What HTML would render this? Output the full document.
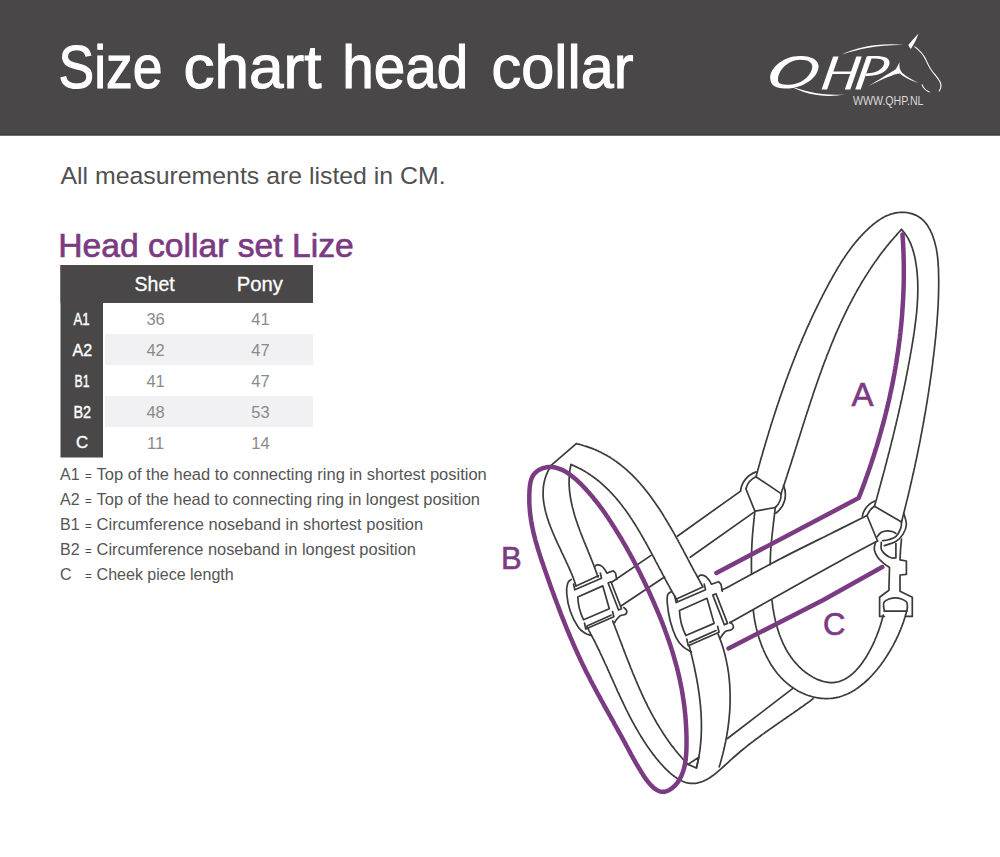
<!DOCTYPE html>
<html><head><meta charset="utf-8"><title>Size chart head collar</title>
<style>
html,body{margin:0;padding:0;background:#fff;}
body{width:1000px;height:857px;position:relative;overflow:hidden;font-family:"Liberation Sans",sans-serif;}
svg{position:absolute;left:0;top:0;display:block;}
</style></head>
<body>
<svg width="1000" height="857" viewBox="0 0 1000 857">
<rect x="0" y="0" width="1000" height="135.5" fill="#4a4749"/>
<rect x="0" y="134.2" width="1000" height="1.3" fill="#3b393a"/>
<rect x="60.5" y="265" width="252.5" height="38" fill="#4a4749"/>
<rect x="60.5" y="265" width="42.5" height="192.5" fill="#4a4749"/>
<rect x="105" y="334" width="208" height="31" fill="#f1f1f3"/>
<rect x="105" y="396" width="208" height="31" fill="#f1f1f3"/>

<g fill="#ffffff" stroke="none">
<path fill-rule="evenodd" d="M770.5,80 C768,70 782,56 800,56 C814,56 821,62 818,70 C814,82 798,89 785,88.5 C775,88 771,85 770.5,80Z M778,80.5 C777.5,71 787.5,60 800,59.8 C809,59.7 813.5,63 812,69 C809.5,78 799,84.8 789,84.8 C781.5,84.8 778.2,83.5 778,80.5Z"/>
<path d="M790,86 C805,91 820,96 845,94.5 C826,98 806,95 790,86Z"/>
<path d="M821.6,89.6 L833.1,56.5 L838.6,56.5 L827.1,89.6Z"/>
<path d="M844.8,89.6 L856.3,56.5 L861.8,56.5 L850.3,89.6Z"/>
<path d="M830,71.5 L853.5,71.5 L853,74 L829.5,74Z"/>
<path d="M855.2,89.6 L866.7,56.5 L872.2,56.5 L860.7,89.6Z"/>
<path fill-rule="evenodd" d="M867.5,56.3 C880,55.3 891.5,56 889.3,64.5 C887,73 876,76.5 865.5,76 L866,73.6 C875,73.3 882.5,70 884,64.3 C885.5,58.6 878,58.3 868,58.6Z"/>
<path d="M841.5,54.5 C858,47 880,42.5 904,45 C880,44.5 860,48.5 841.5,54.5Z"/>
<path d="M908.3,45 Q913.5,38.5 918.6,33.5 Q916,41.5 910.9,48.9 Q909.2,47.3 908.3,45Z"/>
<path d="M868,86.5 C878,80 890,73 896,69 L899.6,62 C899,66 899.5,70 902.3,73 C906,76 912,80 918.5,83 C911,80.5 904,77.5 900,73.5 C895,73.5 880,80 868,86.5Z"/>
</g>
<g fill="none" stroke="#ffffff" stroke-linecap="round">
<path stroke-width="1.1" d="M914.9,46.9 C919,50 923,54 925.5,59 C928,64.5 929.5,68 932,71 C935,75 939,79 940.5,83 C941.5,86 940.5,89 939.2,91"/>
<path stroke-width="1.1" d="M922.1,84.7 C923,87.5 925.5,90.5 929.3,91.9"/>
</g>
<text transform="translate(853.00,104.50) scale(0.8494,1)" font-family="Liberation Sans" font-weight="normal" font-style="normal" font-size="12.5" fill="#d8d8d8">WWW.QHP.NL</text>
<text transform="translate(58.50,88.30) scale(0.8832,1)" font-family="Liberation Sans" font-weight="normal" font-style="normal" font-size="60.5" fill="#ffffff" stroke="#ffffff" stroke-width="1.1">Size</text>
<text transform="translate(183.50,88.30) scale(1.0260,1)" font-family="Liberation Sans" font-weight="normal" font-style="normal" font-size="60.5" fill="#ffffff" stroke="#ffffff" stroke-width="1.1">chart</text>
<text transform="translate(342.20,88.30) scale(0.9368,1)" font-family="Liberation Sans" font-weight="normal" font-style="normal" font-size="60.5" fill="#ffffff" stroke="#ffffff" stroke-width="1.1">head</text>
<text transform="translate(491.60,88.30) scale(0.9813,1)" font-family="Liberation Sans" font-weight="normal" font-style="normal" font-size="60.5" fill="#ffffff" stroke="#ffffff" stroke-width="1.1">collar</text>
<text transform="translate(60.50,183.80) scale(1.0145,1)" font-family="Liberation Sans" font-weight="normal" font-style="normal" font-size="24.5" fill="#505050">All measurements are listed in CM.</text>
<text transform="translate(58.30,256.50) scale(1.0195,1)" font-family="Liberation Sans" font-weight="normal" font-style="normal" font-size="33" fill="#7b3b82" stroke="#7b3b82" stroke-width="0.7">Head collar set Lize</text>
<text transform="translate(134.60,291.20) scale(0.9988,1)" font-family="Liberation Sans" font-weight="normal" font-style="normal" font-size="19.5" fill="#ffffff" stroke="#ffffff" stroke-width="0.3">Shet</text>
<text transform="translate(236.80,291.20) scale(1.0382,1)" font-family="Liberation Sans" font-weight="normal" font-style="normal" font-size="19.5" fill="#ffffff" stroke="#ffffff" stroke-width="0.3">Pony</text>
<text transform="translate(73.40,324.80) scale(0.7759,1)" font-family="Liberation Sans" font-weight="normal" font-style="normal" font-size="17" fill="#ffffff" stroke="#ffffff" stroke-width="0.4">A1</text>
<text transform="translate(72.50,356.00) scale(0.9446,1)" font-family="Liberation Sans" font-weight="normal" font-style="normal" font-size="17" fill="#ffffff" stroke="#ffffff" stroke-width="0.4">A2</text>
<text transform="translate(74.60,386.80) scale(0.7181,1)" font-family="Liberation Sans" font-weight="normal" font-style="normal" font-size="17" fill="#ffffff" stroke="#ffffff" stroke-width="0.4">B1</text>
<text transform="translate(73.40,417.60) scale(0.8482,1)" font-family="Liberation Sans" font-weight="normal" font-style="normal" font-size="17" fill="#ffffff" stroke="#ffffff" stroke-width="0.4">B2</text>
<text transform="translate(75.90,448.40) scale(0.9878,1)" font-family="Liberation Sans" font-weight="normal" font-style="normal" font-size="17" fill="#ffffff" stroke="#ffffff" stroke-width="0.4">C</text>
<text x="155.6" y="325.0" text-anchor="middle" font-family="Liberation Sans" font-size="16.5" fill="#8a8a8a">36</text>
<text x="260.5" y="325.0" text-anchor="middle" font-family="Liberation Sans" font-size="16.5" fill="#8a8a8a">41</text>
<text x="155.6" y="355.9" text-anchor="middle" font-family="Liberation Sans" font-size="16.5" fill="#8a8a8a">42</text>
<text x="260.5" y="355.9" text-anchor="middle" font-family="Liberation Sans" font-size="16.5" fill="#8a8a8a">47</text>
<text x="155.6" y="386.8" text-anchor="middle" font-family="Liberation Sans" font-size="16.5" fill="#8a8a8a">41</text>
<text x="260.5" y="386.8" text-anchor="middle" font-family="Liberation Sans" font-size="16.5" fill="#8a8a8a">47</text>
<text x="155.6" y="417.7" text-anchor="middle" font-family="Liberation Sans" font-size="16.5" fill="#8a8a8a">48</text>
<text x="260.5" y="417.7" text-anchor="middle" font-family="Liberation Sans" font-size="16.5" fill="#8a8a8a">53</text>
<text x="155.6" y="448.6" text-anchor="middle" font-family="Liberation Sans" font-size="16.5" fill="#8a8a8a">11</text>
<text x="260.5" y="448.6" text-anchor="middle" font-family="Liberation Sans" font-size="16.5" fill="#8a8a8a">14</text>
<text x="60" y="479.7" font-family="Liberation Sans" font-size="16" fill="#555555">A1</text>
<text x="85" y="479.7" font-family="Liberation Sans" font-size="11.5" fill="#4a4a4a">=</text>
<text transform="translate(96.60,479.70) scale(1.0301,1)" font-family="Liberation Sans" font-weight="normal" font-style="normal" font-size="16" fill="#555555">Top of the head to connecting ring in shortest position</text>
<text x="60" y="504.7" font-family="Liberation Sans" font-size="16" fill="#555555">A2</text>
<text x="85" y="504.7" font-family="Liberation Sans" font-size="11.5" fill="#4a4a4a">=</text>
<text transform="translate(96.60,504.70) scale(1.0270,1)" font-family="Liberation Sans" font-weight="normal" font-style="normal" font-size="16" fill="#555555">Top of the head to connecting ring in longest position</text>
<text x="60" y="529.7" font-family="Liberation Sans" font-size="16" fill="#555555">B1</text>
<text x="85" y="529.7" font-family="Liberation Sans" font-size="11.5" fill="#4a4a4a">=</text>
<text transform="translate(96.60,529.70) scale(1.0319,1)" font-family="Liberation Sans" font-weight="normal" font-style="normal" font-size="16" fill="#555555">Circumference noseband in shortest position</text>
<text x="60" y="554.7" font-family="Liberation Sans" font-size="16" fill="#555555">B2</text>
<text x="85" y="554.7" font-family="Liberation Sans" font-size="11.5" fill="#4a4a4a">=</text>
<text transform="translate(96.60,554.70) scale(1.0265,1)" font-family="Liberation Sans" font-weight="normal" font-style="normal" font-size="16" fill="#555555">Circumference noseband in longest position</text>
<text x="60" y="579.7" font-family="Liberation Sans" font-size="16" fill="#555555">C</text>
<text x="85" y="579.7" font-family="Liberation Sans" font-size="11.5" fill="#4a4a4a">=</text>
<text transform="translate(96.60,579.70) scale(1.0015,1)" font-family="Liberation Sans" font-weight="normal" font-style="normal" font-size="16" fill="#555555">Cheek piece length</text>
</svg>
<svg class="ill" width="1000" height="857" viewBox="0 0 1000 857">
<g fill="none" stroke="#3a3a3a" stroke-width="1.7" stroke-linecap="round" stroke-linejoin="round">
<path d="M756.1,476.3 L756.5,474.9 L756.9,473.4 L757.3,472.0 L757.7,470.5 L758.1,469.1 L758.5,467.6 L758.9,466.2 L759.3,464.8 L759.7,463.3 L760.1,461.9 L760.5,460.4 L760.9,459.0 L761.3,457.5 L761.8,456.1 L762.2,454.7 L762.6,453.2 L763.0,451.8 L763.4,450.3 L763.9,448.9 L764.3,447.4 L764.7,446.0 L765.1,444.6 L765.6,443.1 L766.0,441.7 L766.4,440.2 L766.9,438.8 L767.3,437.3 L767.7,435.9 L768.2,434.5 L768.6,433.0 L769.0,431.6 L769.5,430.1 L769.9,428.7 L770.4,427.2 L770.8,425.8 L771.3,424.4 L771.7,422.9 L772.2,421.5 L772.6,420.1 L773.1,418.6 L773.6,417.2 L774.0,415.7 L774.5,414.3 L775.0,412.9 L775.4,411.4 L775.9,410.0 L776.4,408.6 L776.8,407.1 L777.3,405.7 L777.8,404.3 L778.3,402.8 L778.8,401.4 L779.2,400.0 L779.7,398.5 L780.2,397.1 L780.7,395.7 L781.2,394.2 L781.7,392.8 L782.2,391.4 L782.7,390.0 L783.2,388.5 L783.7,387.1 L784.2,385.7 L784.7,384.3 L785.2,382.9 L785.7,381.4 L786.2,380.0 L786.8,378.6 L787.3,377.2 L787.8,375.8 L788.3,374.3 L788.9,372.9 L789.4,371.5 L789.9,370.1 L790.5,368.7 L791.0,367.3 L791.5,365.9 L792.1,364.4 L792.6,363.0 L793.2,361.6 L793.7,360.2 L794.3,358.8 L794.8,357.4 L795.4,356.0 L795.9,354.6 L796.5,353.2 L797.0,351.8 L797.6,350.4 L798.2,349.0 L798.8,347.6 L799.3,346.2 L799.9,344.8 L800.5,343.5 L801.1,342.1 L801.7,340.7 L802.2,339.3 L802.8,337.9 L803.4,336.5 L804.0,335.1 L804.6,333.8 L805.2,332.4 L805.8,331.0 L806.4,329.6 L807.0,328.2 L807.6,326.9 L808.3,325.5 L808.9,324.1 L809.5,322.8 L810.1,321.4 L810.7,320.0 L811.4,318.7 L812.0,317.3 L812.6,315.9 L813.3,314.6 L813.9,313.2 L814.6,311.9 L815.2,310.5 L815.9,309.2 L816.5,307.8 L817.2,306.5 L817.8,305.1 L818.5,303.8 L819.2,302.4 L819.8,301.1 L820.5,299.7 L821.2,298.4 L821.9,297.1 L822.5,295.7 L823.2,294.4 L823.9,293.1 L824.6,291.7 L825.3,290.4 L826.0,289.1 L826.7,287.8 L827.4,286.4 L828.1,285.1 L828.8,283.8 L829.5,282.5 L830.2,281.2 L831.0,279.9 L831.7,278.6 L832.4,277.3 L833.1,276.0 L833.9,274.7 L834.6,273.4 L835.4,272.1 L836.1,270.8 L836.9,269.5 L837.6,268.2 L838.4,266.9 L839.2,265.7 L840.0,264.4 L840.7,263.1 L841.5,261.8 L842.3,260.6 L843.2,259.3 L844.0,258.1 L844.8,256.8 L845.7,255.6 L846.5,254.4 L847.4,253.1 L848.2,251.9 L849.1,250.7 L850.0,249.5 L850.9,248.2 L851.8,247.0 L852.7,245.8 L853.7,244.6 L854.6,243.5 L855.6,242.3 L856.6,241.1 L857.6,239.9 L858.6,238.8 L859.6,237.6 L860.6,236.5 L861.7,235.4 L862.7,234.2 L863.8,233.1 L864.9,232.0 L866.0,230.9 L867.2,229.8 L868.3,228.7 L869.5,227.6 L870.6,226.6 L871.8,225.6 L873.0,224.5 L874.2,223.6 L875.5,222.6 L876.7,221.7 L878.0,220.8 L879.3,219.9 L880.6,219.1 L881.9,218.3 L883.2,217.5 L884.6,216.8 L885.9,216.1 L887.3,215.5 L888.7,215.0 L890.1,214.4 L891.5,214.0 L892.9,213.6 L894.4,213.2 L895.8,212.9 L897.3,212.7 L898.7,212.5 L900.2,212.4 L901.7,212.3 L903.1,212.3 L904.6,212.4 L906.0,212.5 L907.5,212.7 L908.9,213.0 L910.3,213.3 L911.7,213.6 L913.0,214.1 L914.3,214.6 L915.6,215.1 L916.9,215.7 L918.1,216.4 L919.3,217.2 L920.5,218.0 L921.6,218.9 L922.7,219.8 L923.7,220.8 L924.7,221.9 L925.6,223.0 L926.5,224.1 L927.4,225.3 L928.2,226.6 L928.9,227.9 L929.7,229.2 L930.4,230.6 L931.0,231.9 L931.7,233.3 L932.3,234.8 L932.8,236.2 L933.3,237.7 L933.8,239.2 L934.3,240.6 L934.7,242.1 L935.1,243.6 L935.5,245.1 L935.8,246.6 L936.2,248.1 L936.5,249.6 L936.7,251.2 L937.0,252.7 L937.2,254.2 L937.4,255.7 L937.6,257.2 L937.7,258.7 L937.9,260.3 L938.0,261.8 L938.1,263.3 L938.2,264.9 L938.3,266.4 L938.4,267.9 L938.5,269.4 L938.5,271.0 L938.5,272.5 L938.6,274.0 L938.6,275.5 L938.6,277.1 L938.7,278.6 L938.7,280.1 L938.7,281.6 L938.7,283.1 L938.7,284.6 L938.7,286.2 L938.6,287.7 L938.6,289.2 L938.6,290.7 L938.6,292.2 L938.5,293.7 L938.5,295.2 L938.5,296.7 L938.4,298.2 L938.3,299.7 L938.3,301.2 L938.2,302.7 L938.2,304.2 L938.1,305.7 L938.0,307.2 L937.9,308.7 L937.8,310.2 L937.7,311.7 L937.6,313.2 L937.6,314.7 L937.4,316.2 L937.3,317.7 L937.2,319.2 L937.1,320.7 L937.0,322.2 L936.9,323.7 L936.8,325.2 L936.6,326.7 L936.5,328.1 L936.4,329.6 L936.2,331.1 L936.1,332.6 L935.9,334.1 L935.8,335.6 L935.7,337.1 L935.5,338.6 L935.3,340.1 L935.2,341.5 L935.0,343.0 L934.9,344.5 L934.7,346.0 L934.5,347.5 L934.4,349.0 L934.2,350.5 L934.0,352.0 L933.8,353.5 L933.7,354.9 L933.5,356.4 L933.3,357.9 L933.1,359.4 L932.9,360.9 L932.7,362.4 L932.6,363.9 L932.4,365.4 L932.2,366.9 L932.0,368.4 L931.8,369.8 L931.6,371.3 L931.4,372.8 L931.2,374.3 L931.0,375.8 L930.8,377.3 L930.5,378.8 L930.3,380.3 L930.1,381.8 L929.9,383.3 L929.7,384.8 L929.5,386.2 L929.2,387.7 L929.0,389.2 L928.8,390.7 L928.6,392.2 L928.3,393.7 L928.1,395.2 L927.9,396.7 L927.6,398.2 L927.4,399.7 L927.2,401.1 L926.9,402.6 L926.7,404.1 L926.4,405.6 L926.2,407.1 L925.9,408.6 L925.7,410.1 L925.4,411.6 L925.2,413.1 L924.9,414.5 L924.6,416.0 L924.4,417.5 L924.1,419.0 L923.9,420.5 L923.6,422.0 L923.3,423.5 L923.1,424.9 L922.8,426.4 L922.5,427.9 L922.2,429.4 L922.0,430.9 L921.7,432.4 L921.4,433.9 L921.1,435.3 L920.8,436.8 L920.5,438.3 L920.3,439.8 L920.0,441.3 L919.7,442.8 L919.4,444.2 L919.1,445.7 L918.8,447.2 L918.5,448.7 L918.2,450.2 L917.9,451.6 L917.6,453.1 L917.3,454.6 L917.0,456.1 L916.7,457.5 L916.4,459.0 L916.0,460.5 L915.7,462.0 L915.4,463.4 L915.1,464.9 L914.8,466.4 L914.5,467.9 L914.1,469.3 L913.8,470.8 L913.5,472.3 L913.2,473.8 L912.8,475.2 L912.5,476.7 L912.2,478.2 L911.8,479.6 L911.5,481.1 L911.2,482.6 L910.8,484.0 L910.5,485.5 L910.1,487.0 L909.8,488.4 L909.5,489.9 L909.1,491.4 L908.8,492.8 L908.4,494.3 L908.1,495.7 L907.7,497.2 L907.4,498.7 L907.0,500.1 L906.6,501.6 L906.3,503.0 L905.9,504.5 L905.6,505.9 L905.2,507.4 L904.8,508.9 L904.5,510.3 L904.1,511.8 L903.7,513.2 L903.4,514.7 L903.0,516.1 L902.6,517.6 L902.3,519.0 L901.9,520.5 L901.5,521.9"/>
<path d="M781.1,493.6 L781.6,492.2 L782.0,490.8 L782.5,489.4 L783.0,488.0 L783.5,486.6 L783.9,485.2 L784.4,483.8 L784.9,482.4 L785.3,480.9 L785.8,479.5 L786.2,478.1 L786.7,476.7 L787.2,475.3 L787.6,473.8 L788.1,472.4 L788.5,471.0 L789.0,469.6 L789.5,468.1 L789.9,466.7 L790.4,465.3 L790.8,463.9 L791.3,462.4 L791.7,461.0 L792.2,459.6 L792.6,458.1 L793.1,456.7 L793.6,455.3 L794.0,453.8 L794.5,452.4 L794.9,450.9 L795.4,449.5 L795.8,448.1 L796.3,446.6 L796.7,445.2 L797.2,443.7 L797.6,442.3 L798.1,440.8 L798.6,439.4 L799.0,437.9 L799.5,436.5 L799.9,435.0 L800.4,433.6 L800.8,432.2 L801.3,430.7 L801.7,429.3 L802.2,427.8 L802.7,426.4 L803.1,424.9 L803.6,423.5 L804.1,422.0 L804.5,420.6 L805.0,419.1 L805.4,417.7 L805.9,416.2 L806.4,414.8 L806.8,413.3 L807.3,411.9 L807.8,410.4 L808.3,409.0 L808.7,407.5 L809.2,406.1 L809.7,404.6 L810.2,403.2 L810.6,401.7 L811.1,400.3 L811.6,398.8 L812.1,397.4 L812.6,395.9 L813.0,394.5 L813.5,393.0 L814.0,391.6 L814.5,390.1 L815.0,388.7 L815.5,387.2 L816.0,385.8 L816.5,384.4 L817.0,382.9 L817.5,381.5 L818.0,380.0 L818.5,378.6 L819.0,377.2 L819.5,375.7 L820.0,374.3 L820.6,372.9 L821.1,371.4 L821.6,370.0 L822.1,368.6 L822.6,367.1 L823.2,365.7 L823.7,364.3 L824.2,362.8 L824.8,361.4 L825.3,360.0 L825.9,358.6 L826.4,357.1 L826.9,355.7 L827.5,354.3 L828.1,352.9 L828.6,351.5 L829.2,350.1 L829.7,348.7 L830.3,347.2 L830.9,345.8 L831.4,344.4 L832.0,343.0 L832.6,341.6 L833.2,340.2 L833.8,338.8 L834.3,337.4 L834.9,336.0 L835.5,334.6 L836.1,333.2 L836.7,331.9 L837.3,330.5 L837.9,329.1 L838.6,327.7 L839.2,326.3 L839.8,324.9 L840.4,323.6 L841.0,322.2 L841.7,320.8 L842.3,319.4 L843.0,318.1 L843.6,316.7 L844.3,315.4 L844.9,314.0 L845.6,312.6 L846.2,311.3 L846.9,309.9 L847.6,308.6 L848.2,307.2 L848.9,305.9 L849.6,304.6 L850.3,303.2 L851.0,301.9 L851.7,300.6 L852.4,299.2 L853.1,297.9 L853.8,296.6 L854.5,295.3 L855.2,293.9 L856.0,292.6 L856.7,291.3 L857.4,290.0 L858.2,288.7 L858.9,287.4 L859.7,286.1 L860.4,284.8 L861.2,283.5 L861.9,282.2 L862.7,280.9 L863.5,279.7 L864.3,278.4 L865.1,277.1 L865.9,275.8 L866.7,274.6 L867.5,273.3 L868.3,272.1 L869.1,270.8 L869.9,269.6 L870.7,268.3 L871.6,267.1 L872.4,265.8 L873.2,264.6 L874.1,263.4 L874.9,262.1 L875.8,260.9 L876.7,259.7 L877.6,258.5 L878.4,257.3 L879.3,256.0 L880.2,254.8 L881.1,253.6 L882.0,252.4 L882.9,251.3 L883.8,250.1 L884.8,248.9 L885.7,247.7 L886.6,246.5 L887.6,245.4 L888.5,244.2 L889.5,243.0 L890.4,241.9 L891.4,240.7 L892.4,239.6 L893.4,238.5 L894.4,237.3 L895.4,236.2 L896.4,235.1 L897.4,233.9 L898.4,232.8 L899.4,231.7 L900.5,230.6 L901.5,229.5"/>
<path d="M901.5,229.5 L902.5,230.6 L903.5,231.7 L904.4,232.8 L905.2,234.0 L906.1,235.2 L906.9,236.4 L907.6,237.6 L908.3,238.8 L909.0,240.1 L909.6,241.3 L910.2,242.6 L910.8,243.9 L911.3,245.2 L911.8,246.6 L912.3,247.9 L912.7,249.3 L913.1,250.7 L913.5,252.0 L913.9,253.4 L914.2,254.8 L914.6,256.2 L914.9,257.6 L915.2,259.1 L915.4,260.5 L915.7,261.9 L915.9,263.4 L916.1,264.8 L916.4,266.3 L916.6,267.7 L916.7,269.2 L916.9,270.6 L917.0,272.1 L917.2,273.6 L917.3,275.0 L917.4,276.5 L917.5,278.0 L917.6,279.5 L917.7,281.0 L917.7,282.5 L917.8,284.0 L917.8,285.5 L917.8,287.0 L917.8,288.5 L917.8,290.0 L917.8,291.5 L917.8,293.0 L917.7,294.5 L917.7,296.1 L917.6,297.6 L917.6,299.1 L917.5,300.6 L917.4,302.2 L917.3,303.7 L917.2,305.2 L917.1,306.8 L917.0,308.3 L916.8,309.8 L916.7,311.4 L916.6,312.9 L916.4,314.4 L916.2,316.0 L916.1,317.5 L915.9,319.0 L915.7,320.6 L915.5,322.1 L915.3,323.7 L915.1,325.2 L914.9,326.7 L914.7,328.3 L914.5,329.8 L914.3,331.3 L914.1,332.9 L913.8,334.4 L913.6,336.0 L913.4,337.5 L913.1,339.0 L912.9,340.5 L912.6,342.1 L912.4,343.6 L912.1,345.1 L911.9,346.6 L911.6,348.2 L911.3,349.7 L911.1,351.2 L910.8,352.7 L910.5,354.2 L910.3,355.7 L910.0,357.2 L909.7,358.7 L909.5,360.2 L909.2,361.7 L908.9,363.2 L908.6,364.7 L908.3,366.2 L908.1,367.7 L907.8,369.2 L907.5,370.7 L907.2,372.2 L906.9,373.6 L906.6,375.1 L906.3,376.6 L906.0,378.1 L905.8,379.6 L905.5,381.0 L905.2,382.5 L904.9,384.0 L904.6,385.4 L904.3,386.9 L904.0,388.4 L903.7,389.8 L903.3,391.3 L903.0,392.8 L902.7,394.2 L902.4,395.7 L902.1,397.1 L901.8,398.6 L901.5,400.0 L901.1,401.5 L900.8,403.0 L900.5,404.4 L900.2,405.9 L899.9,407.3 L899.5,408.8 L899.2,410.2 L898.9,411.7 L898.6,413.1 L898.2,414.6 L897.9,416.0 L897.6,417.4 L897.2,418.9 L896.9,420.3 L896.5,421.8 L896.2,423.2 L895.9,424.7 L895.5,426.1 L895.2,427.6 L894.8,429.0 L894.5,430.4 L894.1,431.9 L893.8,433.3 L893.4,434.8 L893.1,436.2 L892.7,437.7 L892.4,439.1 L892.0,440.5 L891.6,442.0 L891.3,443.4 L890.9,444.9 L890.6,446.3 L890.2,447.8 L889.8,449.2 L889.5,450.6 L889.1,452.1 L888.7,453.5 L888.3,455.0 L888.0,456.4 L887.6,457.9 L887.2,459.3 L886.8,460.8 L886.5,462.2 L886.1,463.7 L885.7,465.1 L885.3,466.6 L884.9,468.0 L884.6,469.5 L884.2,470.9 L883.8,472.4 L883.4,473.9 L883.0,475.3 L882.6,476.8 L882.2,478.2 L881.8,479.7 L881.4,481.2 L881.0,482.6 L880.6,484.1 L880.2,485.6 L879.8,487.0 L879.4,488.5 L879.0,490.0 L878.6,491.5 L878.2,492.9 L877.8,494.4 L877.4,495.9 L877.0,497.4 L876.6,498.9 L876.2,500.3 L875.7,501.8 L875.3,503.3 L874.9,504.8 L874.5,506.3"/>
<path d="M756.1,471.9 A23,23 0 0 0 740.6,490.3"/>
<path d="M756,476.8 A18,18 0 0 0 745.9,488.7"/>
<path d="M783.5,485.4 A23,23 0 0 1 775.8,513.2"/>
<path d="M781.1,493.6 A18,18 0 0 1 775.3,507.5"/>
<path d="M756.0,476.8 L781.1,493.6"/>
<path d="M745.9,488.7 L754.9,511.2 L775.3,507.5"/>
<path d="M754.9,511.2C754.5,515.2 753.1,527.5 752.5,535.0C751.9,542.5 751.7,549.5 751.5,556.0C751.3,562.5 751.5,570.9 751.5,573.9"/>
<path d="M775.3,507.5C774.8,512.1 772.9,527.6 772.1,535.0C771.3,542.4 770.9,547.1 770.6,552.0C770.3,556.9 770.3,562.5 770.2,564.6"/>
<path d="M874.9,501 A21.5,21.5 0 0 0 862.3,516.1"/>
<path d="M874.5,506.3 A17,17 0 0 0 867.6,514.5"/>
<path d="M903.9,513.7C904.3,515.5 906.5,520.9 906.4,524.3C906.3,527.7 904.9,531.2 903.1,534.1C901.3,537.0 898.9,539.6 895.8,541.5C892.7,543.4 886.2,544.9 884.3,545.6"/>
<path d="M901.5,521.9C901.4,523.0 901.7,525.9 900.7,528.4C899.8,530.9 897.8,534.7 895.8,536.6C893.8,538.5 890.6,539.1 888.4,539.8C886.2,540.5 883.7,540.6 882.7,540.7"/>
<path d="M874.5,506.3 L901.5,521.9"/>
<path d="M867.0,515.5 L877.5,541.0"/>
<path d="M721.7,589.8C723.1,589.2 720.3,591.1 730.0,586.0C739.7,580.9 763.3,567.7 780.0,559.0C796.7,550.3 815.5,541.2 830.0,534.0C844.5,526.8 860.8,518.6 867.0,515.5"/>
<path d="M731.0,622.5C731.6,622.1 726.5,624.7 734.7,620.0C742.9,615.3 762.1,604.5 780.0,594.5C797.9,584.5 825.8,568.9 842.0,560.0C858.2,551.1 871.6,544.2 877.5,541.0"/>
<path d="M877.0,537.0C877.7,536.2 879.4,533.5 881.0,532.5C882.6,531.5 885.0,531.1 886.8,530.9C888.6,530.7 890.5,531.1 892.0,531.5C893.5,531.9 895.2,533.0 895.8,533.3"/>
<path d="M875.5,542.3C875.3,543.5 873.9,546.8 874.3,549.3C874.7,551.8 876.2,555.2 877.8,557.5C879.4,559.8 881.8,561.6 883.7,563.3C885.7,564.9 888.5,566.7 889.5,567.4 L889.5,568 L888.9,590.2 L879.6,597.2 L879.6,616.4 L884.3,616.4"/>
<path d="M906.4,616.4 L912.3,616.4 L912.3,597.2 L900.0,591.3 L900.0,575.0 L906.4,574.4 L906.4,561.0 L900.0,559.8 L900.5,550.0 L901.5,539.0"/>
<path d="M881.3,542.3C881.3,543.5 880.7,547.3 881.3,549.3C881.9,551.2 883.2,552.6 884.8,554.0C886.4,555.4 889.1,557.2 891.0,557.8C892.9,558.4 895.1,557.8 895.9,557.8 L895.9,543.5"/>
<path d="M884.3,611.2C884.3,609.6 882.5,604.0 884.3,601.8C886.1,599.6 891.6,597.8 895.3,597.8C899.0,597.8 904.4,599.6 906.4,601.8C908.4,604.0 906.9,609.6 907.0,611.2 L884.3,611.2"/>
<path d="M753.3,610.3 L753.4,611.7 L753.6,613.0 L753.8,614.4 L754.0,615.8 L754.2,617.3 L754.4,618.7 L754.7,620.1 L754.9,621.6 L755.2,623.0 L755.5,624.5 L755.8,626.0 L756.2,627.5 L756.5,628.9 L756.9,630.4 L757.3,631.9 L757.7,633.4 L758.1,634.9 L758.6,636.4 L759.0,637.9 L759.5,639.4 L760.0,640.9 L760.6,642.4 L761.1,643.9 L761.6,645.4 L762.2,646.9 L762.8,648.3 L763.4,649.8 L764.1,651.3 L764.7,652.7 L765.4,654.2 L766.1,655.6 L766.8,657.0 L767.6,658.4 L768.3,659.8 L769.1,661.2 L769.9,662.6 L770.7,664.0 L771.5,665.3 L772.4,666.6 L773.3,667.9 L774.2,669.2 L775.1,670.5 L776.0,671.7 L777.0,673.0 L778.0,674.2 L779.0,675.3 L780.0,676.5 L781.0,677.6 L782.1,678.7 L783.2,679.8 L784.3,680.9 L785.4,681.9 L786.6,682.9 L787.7,683.9 L788.9,684.8 L790.1,685.7 L791.3,686.6 L792.6,687.5 L793.8,688.3 L795.1,689.1 L796.3,689.9 L797.6,690.7 L798.9,691.4 L800.2,692.0 L801.5,692.7 L802.9,693.3 L804.2,693.9 L805.6,694.5 L806.9,695.0 L808.3,695.5 L809.7,695.9 L811.0,696.3 L812.4,696.7 L813.8,697.1 L815.2,697.4 L816.6,697.7 L818.0,697.9 L819.4,698.1 L820.8,698.3 L822.2,698.4 L823.6,698.5 L825.0,698.6 L826.4,698.6 L827.8,698.6 L829.2,698.5 L830.5,698.5 L831.9,698.3 L833.3,698.2 L834.7,697.9 L836.0,697.7 L837.4,697.4 L838.8,697.1 L840.1,696.7 L841.4,696.3 L842.8,695.8 L844.1,695.3 L845.4,694.8 L846.7,694.3 L848.0,693.7 L849.3,693.0 L850.6,692.4 L851.8,691.7 L853.1,690.9 L854.4,690.2 L855.6,689.4 L856.8,688.6 L858.0,687.7 L859.3,686.8 L860.5,685.9 L861.6,685.0 L862.8,684.0 L864.0,683.1 L865.2,682.0 L866.3,681.0 L867.4,680.0 L868.6,678.9 L869.7,677.8 L870.8,676.6 L871.9,675.5 L872.9,674.3 L874.0,673.2 L875.0,672.0 L876.1,670.7 L877.1,669.5 L878.1,668.3 L879.1,667.0 L880.1,665.7 L881.1,664.4 L882.0,663.1 L883.0,661.8 L883.9,660.5 L884.8,659.1 L885.7,657.8 L886.6,656.4 L887.5,655.0 L888.3,653.6 L889.2,652.3 L890.0,650.9 L890.8,649.5 L891.6,648.1 L892.4,646.7 L893.2,645.3 L893.9,643.9 L894.7,642.4 L895.4,641.0 L896.1,639.6 L896.7,638.2 L897.4,636.8 L898.1,635.4 L898.7,634.0 L899.3,632.6 L899.9,631.2 L900.5,629.8 L901.0,628.4 L901.6,627.0 L902.1,625.6 L902.6,624.2 L903.1,622.9 L903.6,621.5 L904.0,620.2 L904.4,618.9 L904.9,617.5 L905.2,616.2 L905.6,614.9 L906.0,613.7 L906.3,612.4"/>
<path d="M772.0,600.0 L772.1,601.4 L772.3,602.8 L772.5,604.2 L772.6,605.6 L772.8,607.0 L773.0,608.4 L773.3,609.9 L773.5,611.3 L773.8,612.8 L774.0,614.2 L774.3,615.7 L774.6,617.2 L774.9,618.6 L775.3,620.1 L775.6,621.6 L776.0,623.1 L776.4,624.6 L776.8,626.1 L777.2,627.6 L777.7,629.1 L778.1,630.6 L778.6,632.1 L779.1,633.5 L779.6,635.0 L780.2,636.5 L780.8,638.0 L781.4,639.4 L782.0,640.9 L782.6,642.3 L783.3,643.8 L783.9,645.2 L784.7,646.6 L785.4,648.0 L786.1,649.4 L786.9,650.8 L787.7,652.1 L788.6,653.5 L789.4,654.8 L790.3,656.1 L791.2,657.4 L792.2,658.7 L793.1,660.0 L794.1,661.2 L795.1,662.4 L796.2,663.6 L797.3,664.8 L798.4,666.0 L799.5,667.1 L800.7,668.2 L801.8,669.3 L803.0,670.3 L804.3,671.3 L805.5,672.3 L806.8,673.2 L808.1,674.1 L809.4,675.0 L810.7,675.8 L812.0,676.6 L813.3,677.4 L814.6,678.1 L816.0,678.8 L817.3,679.4 L818.7,679.9 L820.1,680.4 L821.4,680.9 L822.8,681.3 L824.2,681.7 L825.5,682.0 L826.9,682.2 L828.2,682.4 L829.6,682.6 L830.9,682.6 L832.2,682.6 L833.5,682.6 L834.8,682.4 L836.1,682.2 L837.4,682.0 L838.7,681.7 L839.9,681.3 L841.1,680.8 L842.4,680.3 L843.6,679.8 L844.7,679.2 L845.9,678.5 L847.1,677.8 L848.2,677.1 L849.4,676.3 L850.5,675.4 L851.6,674.5 L852.7,673.6 L853.8,672.6 L854.8,671.6 L855.9,670.5 L856.9,669.4 L857.9,668.3 L858.9,667.1 L859.9,665.9 L860.8,664.7 L861.8,663.4 L862.7,662.2 L863.6,660.8 L864.5,659.5 L865.4,658.2 L866.3,656.8 L867.1,655.4 L867.9,654.0 L868.7,652.6 L869.5,651.1 L870.3,649.7 L871.1,648.2 L871.8,646.7 L872.5,645.3 L873.2,643.8 L873.9,642.3 L874.6,640.8 L875.2,639.3 L875.8,637.8 L876.5,636.3 L877.0,634.8 L877.6,633.3 L878.2,631.9 L878.7,630.4 L879.2,628.9 L879.7,627.5 L880.2,626.0 L880.6,624.6 L881.0,623.2 L881.5,621.8 L881.8,620.4 L882.2,619.1 L882.6,617.8 L882.9,616.5 L883.2,615.2"/>
<path d="M727.5,738.5 L792.5,688.6"/>
<path d="M551.7,464.8 L576.3,443.7"/>
<path d="M576.3,443.7 L577.8,444.0 L579.4,444.4 L580.9,444.8 L582.4,445.2 L583.9,445.7 L585.4,446.1 L586.9,446.6 L588.3,447.1 L589.7,447.6 L591.2,448.1 L592.6,448.6 L594.0,449.2 L595.4,449.8 L596.8,450.4 L598.1,451.0 L599.5,451.7 L600.8,452.3 L602.1,453.0 L603.5,453.7 L604.8,454.4 L606.1,455.1 L607.3,455.8 L608.6,456.6 L609.9,457.3 L611.1,458.1 L612.3,458.9 L613.6,459.7 L614.8,460.6 L616.0,461.4 L617.2,462.3 L618.4,463.2 L619.5,464.0 L620.7,464.9 L621.8,465.9 L623.0,466.8 L624.1,467.7 L625.2,468.7 L626.4,469.7 L627.5,470.6 L628.5,471.6 L629.6,472.6 L630.7,473.7 L631.8,474.7 L632.8,475.7 L633.9,476.8 L634.9,477.8 L635.9,478.9 L637.0,480.0 L638.0,481.1 L639.0,482.2 L640.0,483.3 L640.9,484.5 L641.9,485.6 L642.9,486.7 L643.9,487.9 L644.8,489.1 L645.8,490.2 L646.7,491.4 L647.6,492.6 L648.6,493.8 L649.5,495.0 L650.4,496.2 L651.3,497.4 L652.2,498.7 L653.1,499.9 L654.0,501.2 L654.9,502.4 L655.7,503.7 L656.6,504.9 L657.5,506.2 L658.3,507.5 L659.2,508.8 L660.0,510.0 L660.8,511.3 L661.7,512.6 L662.5,513.9 L663.3,515.2 L664.1,516.6 L664.9,517.9 L665.7,519.2 L666.5,520.5 L667.3,521.9 L668.1,523.2 L668.9,524.5 L669.7,525.9 L670.5,527.2 L671.3,528.5 L672.0,529.9 L672.8,531.2 L673.6,532.6 L674.3,533.9 L675.1,535.3 L675.8,536.6 L676.6,538.0 L677.3,539.3 L678.1,540.7 L678.8,542.1 L679.5,543.4 L680.3,544.8 L681.0,546.1 L681.7,547.5 L682.5,548.9 L683.2,550.2 L683.9,551.6 L684.6,552.9 L685.3,554.3 L686.1,555.6 L686.8,557.0 L687.5,558.3 L688.2,559.7 L688.9,561.0 L689.6,562.3 L690.3,563.7 L691.0,565.0 L691.7,566.3 L692.4,567.7 L693.1,569.0 L693.8,570.3 L694.5,571.6 L695.3,572.9 L696.0,574.2 L696.7,575.5 L697.4,576.8 L698.1,578.1 L698.8,579.4 L699.5,580.7 L700.2,582.0 L700.9,583.2 L701.6,584.5 L702.3,585.7 L703.0,587.0"/>
<path d="M571.0,464.5 L572.4,465.1 L573.9,465.7 L575.3,466.4 L576.7,467.0 L578.0,467.7 L579.4,468.4 L580.8,469.1 L582.1,469.8 L583.4,470.6 L584.7,471.3 L586.0,472.1 L587.3,472.9 L588.5,473.7 L589.8,474.5 L591.0,475.4 L592.3,476.2 L593.5,477.1 L594.7,478.0 L595.9,478.9 L597.0,479.8 L598.2,480.7 L599.4,481.7 L600.5,482.6 L601.6,483.6 L602.7,484.6 L603.8,485.6 L604.9,486.6 L606.0,487.6 L607.1,488.6 L608.1,489.7 L609.2,490.7 L610.2,491.8 L611.3,492.9 L612.3,494.0 L613.3,495.1 L614.3,496.2 L615.3,497.3 L616.3,498.5 L617.2,499.6 L618.2,500.8 L619.2,501.9 L620.1,503.1 L621.0,504.3 L622.0,505.5 L622.9,506.7 L623.8,507.9 L624.7,509.1 L625.6,510.3 L626.5,511.6 L627.4,512.8 L628.2,514.1 L629.1,515.3 L630.0,516.6 L630.8,517.9 L631.7,519.1 L632.5,520.4 L633.3,521.7 L634.2,523.0 L635.0,524.3 L635.8,525.6 L636.6,526.9 L637.4,528.3 L638.2,529.6 L639.0,530.9 L639.8,532.2 L640.6,533.6 L641.4,534.9 L642.1,536.3 L642.9,537.6 L643.7,539.0 L644.4,540.3 L645.2,541.7 L646.0,543.0 L646.7,544.4 L647.5,545.7 L648.2,547.1 L649.0,548.5 L649.7,549.8 L650.4,551.2 L651.2,552.6 L651.9,553.9 L652.6,555.3 L653.4,556.7 L654.1,558.0 L654.8,559.4 L655.5,560.8 L656.2,562.1 L657.0,563.5 L657.7,564.9 L658.4,566.2 L659.1,567.6 L659.8,569.0 L660.6,570.3 L661.3,571.7 L662.0,573.0 L662.7,574.4 L663.4,575.7 L664.1,577.1 L664.9,578.4 L665.6,579.8 L666.3,581.1 L667.0,582.4 L667.7,583.8 L668.5,585.1 L669.2,586.4 L669.9,587.7 L670.6,589.0 L671.4,590.3 L672.1,591.6 L672.8,592.9 L673.6,594.2 L674.3,595.5 L675.1,596.7 L675.8,598.0 L676.6,599.2 L677.3,600.5"/>
<path d="M551.7,464.8 L550.8,466.1 L550.0,467.5 L549.2,468.8 L548.5,470.2 L547.8,471.5 L547.2,472.9 L546.6,474.3 L546.1,475.6 L545.6,477.0 L545.1,478.4 L544.8,479.8 L544.4,481.2 L544.1,482.6 L543.8,484.0 L543.6,485.4 L543.4,486.8 L543.3,488.3 L543.2,489.7 L543.1,491.1 L543.1,492.6 L543.1,494.0 L543.1,495.5 L543.2,496.9 L543.3,498.4 L543.4,499.8 L543.6,501.3 L543.8,502.7 L544.0,504.2 L544.3,505.7 L544.6,507.1 L544.9,508.6 L545.2,510.1 L545.6,511.6 L545.9,513.0 L546.4,514.5 L546.8,516.0 L547.2,517.5 L547.7,518.9 L548.2,520.4 L548.7,521.9 L549.2,523.4 L549.8,524.9 L550.3,526.3 L550.9,527.8 L551.5,529.3 L552.1,530.8 L552.7,532.3 L553.3,533.7 L554.0,535.2 L554.6,536.7 L555.2,538.2 L555.9,539.6 L556.6,541.1 L557.2,542.6 L557.9,544.0 L558.6,545.5 L559.3,547.0 L560.0,548.4 L560.7,549.9 L561.3,551.3 L562.0,552.8 L562.7,554.2 L563.4,555.6 L564.1,557.1 L564.8,558.5 L565.4,559.9 L566.1,561.4 L566.7,562.8 L567.4,564.2 L568.0,565.6 L568.7,567.0 L569.3,568.4 L569.9,569.8 L570.5,571.2 L571.1,572.6 L571.7,573.9 L572.2,575.3 L572.7,576.7 L573.3,578.0 L573.8,579.4 L574.3,580.7 L574.7,582.0 L575.2,583.4 L575.6,584.7 L576.0,586.0"/>
<path d="M571.0,464.5 L570.7,466.0 L570.4,467.5 L570.1,469.0 L569.9,470.5 L569.7,472.0 L569.5,473.6 L569.4,475.1 L569.3,476.6 L569.2,478.1 L569.1,479.6 L569.1,481.1 L569.1,482.6 L569.1,484.1 L569.2,485.6 L569.3,487.1 L569.4,488.6 L569.5,490.0 L569.6,491.5 L569.8,493.0 L570.0,494.5 L570.2,496.0 L570.4,497.5 L570.7,499.0 L571.0,500.5 L571.3,501.9 L571.6,503.4 L571.9,504.9 L572.2,506.4 L572.6,507.9 L573.0,509.3 L573.4,510.8 L573.8,512.3 L574.2,513.8 L574.6,515.2 L575.1,516.7 L575.5,518.2 L576.0,519.6 L576.5,521.1 L577.0,522.6 L577.5,524.0 L578.0,525.5 L578.5,526.9 L579.1,528.4 L579.6,529.9 L580.1,531.3 L580.7,532.8 L581.3,534.2 L581.8,535.7 L582.4,537.1 L583.0,538.6 L583.6,540.0 L584.1,541.5 L584.7,542.9 L585.3,544.3 L585.9,545.8 L586.5,547.2 L587.1,548.6 L587.7,550.1 L588.2,551.5 L588.8,552.9 L589.4,554.4 L590.0,555.8 L590.6,557.2 L591.1,558.7 L591.7,560.1 L592.3,561.5 L592.8,562.9 L593.4,564.3 L593.9,565.7 L594.5,567.2 L595.0,568.6 L595.5,570.0 L596.0,571.4 L596.6,572.8 L597.0,574.2 L597.5,575.6 L598.0,577.0"/>
<path d="M612.0,582.0 L651.1,555.4"/>
<path d="M621.0,606.0 L664.5,577.0"/>
<path d="M740.6,491.1 L677.3,536.2"/>
<path d="M753.7,512.4 L690.2,557.2"/>
<path d="M587.0,627.0 L587.8,628.4 L588.5,629.7 L589.2,631.1 L590.0,632.4 L590.7,633.8 L591.4,635.1 L592.1,636.5 L592.8,637.8 L593.5,639.2 L594.2,640.5 L594.9,641.9 L595.6,643.3 L596.3,644.6 L596.9,646.0 L597.6,647.3 L598.2,648.7 L598.9,650.0 L599.6,651.4 L600.2,652.8 L600.8,654.1 L601.5,655.5 L602.1,656.8 L602.7,658.2 L603.4,659.6 L604.0,660.9 L604.6,662.3 L605.2,663.6 L605.9,665.0 L606.5,666.3 L607.1,667.7 L607.7,669.1 L608.3,670.4 L608.9,671.8 L609.5,673.1 L610.1,674.5 L610.7,675.9 L611.3,677.2 L611.9,678.6 L612.6,679.9 L613.2,681.3 L613.8,682.6 L614.4,684.0 L615.0,685.3 L615.6,686.7 L616.2,688.0 L616.8,689.4 L617.4,690.8 L618.0,692.1 L618.7,693.5 L619.3,694.8 L619.9,696.2 L620.5,697.5 L621.2,698.8 L621.8,700.2 L622.4,701.5 L623.1,702.9 L623.7,704.2 L624.4,705.6 L625.0,706.9 L625.7,708.3 L626.3,709.6 L627.0,710.9 L627.7,712.3 L628.4,713.6 L629.0,715.0 L629.7,716.3 L630.4,717.6 L631.1,719.0 L631.8,720.3 L632.5,721.6 L633.3,723.0 L634.0,724.3 L634.7,725.6 L635.5,727.0 L636.2,728.3 L637.0,729.6 L637.8,730.9 L638.5,732.2 L639.3,733.6 L640.1,734.9 L640.9,736.2 L641.7,737.5 L642.5,738.8 L643.4,740.2 L644.2,741.5 L645.1,742.8 L645.9,744.1 L646.8,745.4 L647.7,746.7 L648.6,748.0 L649.5,749.3 L650.4,750.6 L651.3,751.8 L652.3,753.1 L653.2,754.4 L654.2,755.6 L655.2,756.9 L656.1,758.1 L657.1,759.3 L658.2,760.6 L659.2,761.8 L660.2,763.0 L661.3,764.1 L662.4,765.3 L663.4,766.5 L664.5,767.6 L665.7,768.8 L666.8,769.9 L667.9,771.0 L669.1,772.0 L670.2,773.1 L671.4,774.1 L672.6,775.1 L673.8,776.0 L675.0,776.9 L676.2,777.7 L677.4,778.5 L678.7,779.3 L679.9,780.0 L681.2,780.6 L682.4,781.2 L683.7,781.7 L685.0,782.2 L686.3,782.6 L687.6,782.9 L688.8,783.1 L690.1,783.3 L691.4,783.4 L692.7,783.4 L694.0,783.4 L695.3,783.3 L696.6,783.1 L697.9,782.8 L699.2,782.5 L700.5,782.2 L701.8,781.7 L703.1,781.3 L704.3,780.7 L705.6,780.1 L706.8,779.4 L708.1,778.7 L709.3,778.0 L710.5,777.2 L711.8,776.3 L713.0,775.5 L714.2,774.6 L715.4,773.6 L716.6,772.7 L717.7,771.7 L718.9,770.7 L720.1,769.7 L721.3,768.6 L722.4,767.6 L723.6,766.5 L724.7,765.5 L725.9,764.4 L727.1,763.3 L728.2,762.3 L729.4,761.2 L730.5,760.1 L731.7,759.1 L732.8,758.0 L734.0,757.0 L735.2,756.0 L736.3,755.0 L737.5,754.0 L738.7,753.0 L739.8,752.0 L741.0,751.0 L742.2,750.0 L743.4,749.0 L744.6,748.1 L745.7,747.1 L746.9,746.2 L748.1,745.2 L749.3,744.3 L750.5,743.4 L751.7,742.5 L752.9,741.6 L754.1,740.6 L755.3,739.7 L756.5,738.8 L757.7,738.0 L758.9,737.1 L760.1,736.2 L761.3,735.3 L762.5,734.4 L763.7,733.6 L764.9,732.7 L766.1,731.8 L767.3,731.0 L768.5,730.1 L769.8,729.2 L771.0,728.4 L772.2,727.5 L773.4,726.7 L774.6,725.8 L775.9,725.0 L777.1,724.1 L778.3,723.3 L779.5,722.4 L780.8,721.6 L782.0,720.7 L783.2,719.9 L784.4,719.0 L785.7,718.2 L786.9,717.3 L788.1,716.5 L789.4,715.6 L790.6,714.8 L791.9,713.9 L793.1,713.1 L794.3,712.2 L795.6,711.3 L796.8,710.5 L798.0,709.6 L799.3,708.7 L800.5,707.8 L801.8,707.0 L803.0,706.1 L804.3,705.2 L805.5,704.3 L806.8,703.4 L808.0,702.5 L809.3,701.6 L810.5,700.7 L811.8,699.7 L813.0,698.8"/>
<path d="M612.7,621.0 L613.2,622.4 L613.8,623.8 L614.3,625.2 L614.9,626.6 L615.4,628.1 L616.0,629.5 L616.5,630.9 L617.1,632.3 L617.6,633.7 L618.2,635.2 L618.7,636.6 L619.2,638.0 L619.8,639.4 L620.3,640.9 L620.9,642.3 L621.4,643.7 L622.0,645.1 L622.5,646.6 L623.0,648.0 L623.6,649.4 L624.1,650.9 L624.7,652.3 L625.2,653.7 L625.8,655.2 L626.3,656.6 L626.9,658.0 L627.4,659.4 L628.0,660.9 L628.6,662.3 L629.1,663.7 L629.7,665.1 L630.3,666.6 L630.8,668.0 L631.4,669.4 L632.0,670.8 L632.5,672.3 L633.1,673.7 L633.7,675.1 L634.3,676.5 L634.9,677.9 L635.5,679.3 L636.1,680.8 L636.7,682.2 L637.3,683.6 L637.9,685.0 L638.5,686.4 L639.1,687.8 L639.7,689.2 L640.4,690.6 L641.0,692.0 L641.6,693.4 L642.3,694.8 L642.9,696.1 L643.5,697.5 L644.2,698.9 L644.8,700.3 L645.5,701.7 L646.2,703.0 L646.9,704.4 L647.5,705.8 L648.2,707.1 L648.9,708.5 L649.6,709.8 L650.3,711.2 L651.0,712.5 L651.7,713.9 L652.5,715.2 L653.2,716.6 L653.9,717.9 L654.7,719.2 L655.4,720.5 L656.2,721.8 L656.9,723.2 L657.7,724.5 L658.5,725.8 L659.3,727.1 L660.1,728.4 L660.9,729.6 L661.7,730.9 L662.5,732.2 L663.3,733.5 L664.1,734.7 L665.0,736.0 L665.8,737.3 L666.7,738.5 L667.6,739.8 L668.4,741.0 L669.3,742.2 L670.2,743.5 L671.1,744.7 L672.0,745.9 L673.0,747.1 L673.9,748.3 L674.8,749.5 L675.8,750.7 L676.7,751.9 L677.7,753.0 L678.7,754.2 L679.7,755.4 L680.7,756.5 L681.7,757.7 L682.7,758.8 L683.8,759.9 L684.8,761.1 L685.9,762.2 L686.9,763.3 L688.0,764.4"/>
<path d="M688.0,764.4 L698.8,757.2 L696.4,768.0 L688.0,764.4"/>
<path d="M689.0,645.0 L689.4,646.4 L689.8,647.9 L690.1,649.3 L690.5,650.8 L690.9,652.3 L691.2,653.7 L691.6,655.2 L691.9,656.7 L692.3,658.1 L692.6,659.6 L693.0,661.1 L693.3,662.6 L693.6,664.0 L694.0,665.5 L694.3,667.0 L694.6,668.5 L694.9,670.0 L695.2,671.5 L695.5,673.0 L695.8,674.5 L696.1,676.0 L696.4,677.5 L696.7,679.0 L697.0,680.5 L697.2,682.0 L697.5,683.5 L697.8,685.0 L698.0,686.5 L698.2,688.1 L698.5,689.6 L698.7,691.1 L698.9,692.6 L699.1,694.1 L699.3,695.6 L699.5,697.2 L699.7,698.7 L699.9,700.2 L700.0,701.7 L700.2,703.2 L700.4,704.8 L700.5,706.3 L700.6,707.8 L700.7,709.3 L700.9,710.8 L701.0,712.4 L701.1,713.9 L701.1,715.4 L701.2,716.9 L701.3,718.5 L701.3,720.0 L701.4,721.5 L701.4,723.0 L701.4,724.5 L701.4,726.1 L701.4,727.6 L701.4,729.1 L701.4,730.6 L701.3,732.1 L701.3,733.6 L701.2,735.2 L701.1,736.7 L701.1,738.2 L701.0,739.7 L700.8,741.2 L700.7,742.7 L700.6,744.2 L700.4,745.7 L700.3,747.2 L700.1,748.7 L699.9,750.2 L699.7,751.7 L699.5,753.2 L699.2,754.7 L699.0,756.2 L698.7,757.7 L698.4,759.2 L698.1,760.6 L697.8,762.1 L697.5,763.6 L697.1,765.1 L696.8,766.5 L696.4,768.0"/>
<path d="M718.0,634.0 L718.6,635.4 L719.2,636.8 L719.7,638.3 L720.3,639.7 L720.8,641.1 L721.3,642.5 L721.8,644.0 L722.3,645.4 L722.7,646.9 L723.2,648.3 L723.6,649.8 L724.0,651.3 L724.4,652.7 L724.8,654.2 L725.2,655.7 L725.5,657.1 L725.9,658.6 L726.2,660.1 L726.5,661.6 L726.8,663.1 L727.1,664.5 L727.4,666.0 L727.7,667.5 L727.9,669.0 L728.1,670.5 L728.4,672.0 L728.6,673.5 L728.8,675.0 L728.9,676.5 L729.1,678.1 L729.3,679.6 L729.4,681.1 L729.5,682.6 L729.7,684.1 L729.8,685.6 L729.8,687.1 L729.9,688.7 L730.0,690.2 L730.0,691.7 L730.1,693.2 L730.1,694.8 L730.1,696.3 L730.1,697.8 L730.1,699.3 L730.1,700.9 L730.1,702.4 L730.0,703.9 L730.0,705.4 L729.9,707.0 L729.9,708.5 L729.8,710.0 L729.7,711.5 L729.6,713.1 L729.4,714.6 L729.3,716.1 L729.2,717.6 L729.0,719.2 L728.9,720.7 L728.7,722.2 L728.5,723.7 L728.3,725.2 L728.1,726.8 L727.9,728.3 L727.7,729.8 L727.4,731.3 L727.2,732.8 L727.0,734.3 L726.7,735.8 L726.4,737.3 L726.1,738.8 L725.9,740.3 L725.6,741.8 L725.3,743.3 L724.9,744.8 L724.6,746.3 L724.3,747.8 L723.9,749.3 L723.6,750.7 L723.2,752.2 L722.9,753.7 L722.5,755.2 L722.1,756.6 L721.7,758.1 L721.3,759.6 L720.9,761.0 L720.5,762.5 L720.1,763.9 L719.6,765.4 L719.2,766.8"/>
<path d="M571.3,579.5C570.7,580.1 568.6,580.7 567.8,583.0C567.0,585.3 566.3,588.8 566.7,593.5C567.1,598.2 568.3,605.4 570.2,611.0C572.1,616.6 575.8,623.6 578.3,627.3C580.8,631.0 583.1,631.8 585.3,633.2C587.4,634.6 590.2,635.1 591.2,635.5"/>
<path d="M671.3,591.8C670.7,592.2 668.5,592.5 667.8,594.5C667.1,596.5 666.9,599.1 667.3,603.5C667.7,607.9 668.8,615.4 670.2,621.0C671.7,626.6 673.9,633.0 676.0,637.3C678.1,641.6 680.4,644.2 683.0,646.7C685.6,649.2 690.1,651.1 691.5,652.0"/>
<g><path d="M594.7,566.7C595.1,566.4 595.8,565.0 597.0,564.9C598.2,564.8 600.3,565.2 601.7,566.1C603.1,567.0 604.3,569.0 605.2,570.2C606.1,571.4 606.6,572.6 606.9,573.1 L613.3,570.8 L615.5,573 L616.8,579.5" vector-effect="non-scaling-stroke"/>
<path d="M623.8,607.5C624.2,607.9 625.7,609.0 626.2,609.8C626.7,610.6 627.0,611.4 626.8,612.2C626.6,613.0 626.1,613.9 625.0,614.5C623.9,615.1 621.7,614.9 620.3,615.7C618.9,616.5 617.8,618.0 616.8,619.2C615.8,620.4 614.9,622.1 614.5,622.7" vector-effect="non-scaling-stroke"/>
<path d="M577.8,597 L602.8,585.9 L609.3,608.7 L583.6,619.8 Q578.2,609 577.8,597Z" vector-effect="non-scaling-stroke"/>
<path d="M573.5,584 L574.8,589.8 L601.5,578.2 L600.3,573" vector-effect="non-scaling-stroke"/>
<path d="M576,586 L598.5,575.8" vector-effect="non-scaling-stroke"/>
<path d="M584.5,623 L585.8,629 L613.8,616.8 L612.5,611.5" vector-effect="non-scaling-stroke"/>
<path d="M587,626 L611,615.2" vector-effect="non-scaling-stroke"/>
<path d="M608.1,583 L611,581.8 L621.5,608.7 L618.6,610Z" vector-effect="non-scaling-stroke"/></g>
<g transform="translate(43.9,-46.2) scale(1.1)"><path d="M594.7,566.7C595.1,566.4 595.8,565.0 597.0,564.9C598.2,564.8 600.3,565.2 601.7,566.1C603.1,567.0 604.3,569.0 605.2,570.2C606.1,571.4 606.6,572.6 606.9,573.1 L613.3,570.8 L615.5,573 L616.8,579.5" vector-effect="non-scaling-stroke"/>
<path d="M623.8,607.5C624.2,607.9 625.7,609.0 626.2,609.8C626.7,610.6 627.0,611.4 626.8,612.2C626.6,613.0 626.1,613.9 625.0,614.5C623.9,615.1 621.7,614.9 620.3,615.7C618.9,616.5 617.8,618.0 616.8,619.2C615.8,620.4 614.9,622.1 614.5,622.7" vector-effect="non-scaling-stroke"/>
<path d="M577.8,597 L602.8,585.9 L609.3,608.7 L583.6,619.8 Q578.2,609 577.8,597Z" vector-effect="non-scaling-stroke"/>
<path d="M573.5,584 L574.8,589.8 L601.5,578.2 L600.3,573" vector-effect="non-scaling-stroke"/>
<path d="M576,586 L598.5,575.8" vector-effect="non-scaling-stroke"/>
<path d="M584.5,623 L585.8,629 L613.8,616.8 L612.5,611.5" vector-effect="non-scaling-stroke"/>
<path d="M587,626 L611,615.2" vector-effect="non-scaling-stroke"/>
<path d="M608.1,583 L611,581.8 L621.5,608.7 L618.6,610Z" vector-effect="non-scaling-stroke"/></g>
</g>
<g fill="none" stroke="#7b3b82" stroke-width="4.5" stroke-linecap="round" stroke-linejoin="miter">
<path d="M902.5,234.5 L902.6,236.0 L902.7,237.5 L902.8,239.0 L902.9,240.5 L903.0,242.1 L903.1,243.6 L903.2,245.1 L903.2,246.6 L903.3,248.1 L903.4,249.6 L903.4,251.1 L903.5,252.6 L903.5,254.2 L903.6,255.7 L903.6,257.2 L903.7,258.7 L903.7,260.2 L903.7,261.7 L903.8,263.2 L903.8,264.7 L903.8,266.2 L903.8,267.8 L903.8,269.3 L903.8,270.8 L903.8,272.3 L903.8,273.8 L903.8,275.3 L903.8,276.8 L903.8,278.3 L903.8,279.9 L903.7,281.4 L903.7,282.9 L903.7,284.4 L903.6,285.9 L903.6,287.4 L903.5,288.9 L903.5,290.4 L903.4,291.9 L903.4,293.5 L903.3,295.0 L903.2,296.5 L903.2,298.0 L903.1,299.5 L903.0,301.0 L902.9,302.5 L902.8,304.0 L902.7,305.5 L902.6,307.0 L902.5,308.6 L902.4,310.1 L902.3,311.6 L902.2,313.1 L902.1,314.6 L902.0,316.1 L901.9,317.6 L901.7,319.1 L901.6,320.6 L901.5,322.1 L901.3,323.6 L901.2,325.1 L901.0,326.6 L900.9,328.1 L900.7,329.6 L900.5,331.2 L900.4,332.7 L900.2,334.2 L900.0,335.7 L899.9,337.2 L899.7,338.7 L899.5,340.2 L899.3,341.7 L899.1,343.2 L898.9,344.7 L898.7,346.2 L898.5,347.7 L898.3,349.2 L898.1,350.7 L897.9,352.2 L897.7,353.7 L897.4,355.2 L897.2,356.7 L897.0,358.2 L896.7,359.6 L896.5,361.1 L896.3,362.6 L896.0,364.1 L895.8,365.6 L895.5,367.1 L895.3,368.6 L895.0,370.1 L894.7,371.6 L894.5,373.1 L894.2,374.6 L893.9,376.1 L893.6,377.5 L893.4,379.0 L893.1,380.5 L892.8,382.0 L892.5,383.5 L892.2,385.0 L891.9,386.5 L891.6,387.9 L891.3,389.4 L891.0,390.9 L890.6,392.4 L890.3,393.9 L890.0,395.4 L889.7,396.8 L889.4,398.3 L889.0,399.8 L888.7,401.3 L888.3,402.7 L888.0,404.2 L887.7,405.7 L887.3,407.2 L887.0,408.6 L886.6,410.1 L886.2,411.6 L885.9,413.0 L885.5,414.5 L885.1,416.0 L884.8,417.5 L884.4,418.9 L884.0,420.4 L883.6,421.9 L883.2,423.3 L882.8,424.8 L882.4,426.2 L882.0,427.7 L881.6,429.2 L881.2,430.6 L880.8,432.1 L880.4,433.5 L880.0,435.0 L879.6,436.5 L879.2,437.9 L878.7,439.4 L878.3,440.8 L877.9,442.3 L877.5,443.7 L877.0,445.2 L876.6,446.6 L876.1,448.1 L875.7,449.5 L875.2,451.0 L874.8,452.4 L874.3,453.8 L873.9,455.3 L873.4,456.7 L872.9,458.2 L872.5,459.6 L872.0,461.0 L871.5,462.5 L871.1,463.9 L870.6,465.3 L870.1,466.8 L869.6,468.2 L869.1,469.6 L868.6,471.1 L868.1,472.5 L867.6,473.9 L867.1,475.4 L866.6,476.8 L866.1,478.2 L865.6,479.6 L865.1,481.0 L864.6,482.5 L864.1,483.9 L863.5,485.3 L863.0,486.7 L862.5,488.1 L861.9,489.5 L861.4,491.0 L860.9,492.4 L860.3,493.8 L859.8,495.2 L859.2,496.6 L858.7,498.0 L716.4,573"/>
<path d="M728.5,648.5 L823.3,600.0 L882.3,567.0"/>
<path d="M548.0,467.1 L549.4,467.0 L550.9,467.0 L552.3,467.1 L553.7,467.3 L555.2,467.5 L556.6,467.9 L558.0,468.3 L559.4,468.8 L560.7,469.3 L562.1,469.9 L563.5,470.6 L564.8,471.3 L566.2,472.1 L567.5,472.9 L568.8,473.8 L570.1,474.7 L571.4,475.7 L572.7,476.7 L573.9,477.7 L575.2,478.7 L576.4,479.8 L577.6,480.9 L578.8,482.1 L580.0,483.2 L581.2,484.4 L582.3,485.5 L583.5,486.7 L584.6,487.9 L585.7,489.1 L586.7,490.3 L587.8,491.4 L588.8,492.6 L589.8,493.7 L590.8,494.9 L591.8,496.1 L592.8,497.2 L593.7,498.4 L594.6,499.5 L595.6,500.7 L596.5,501.8 L597.4,502.9 L598.3,504.1 L599.1,505.2 L600.0,506.4 L600.8,507.5 L601.7,508.7 L602.5,509.8 L603.3,511.0 L604.2,512.2 L605.0,513.3 L605.8,514.5 L606.6,515.7 L607.4,516.8 L608.2,518.0 L609.0,519.2 L609.8,520.4 L610.6,521.6 L611.3,522.8 L612.1,524.0 L612.9,525.2 L613.7,526.5 L614.5,527.7 L615.3,528.9 L616.0,530.2 L616.8,531.4 L617.6,532.7 L618.4,533.9 L619.1,535.2 L619.9,536.5 L620.7,537.7 L621.4,539.0 L622.2,540.3 L622.9,541.6 L623.7,542.9 L624.4,544.2 L625.2,545.5 L626.0,546.8 L626.7,548.1 L627.4,549.4 L628.2,550.8 L628.9,552.1 L629.7,553.4 L630.4,554.7 L631.1,556.1 L631.9,557.4 L632.6,558.8 L633.3,560.1 L634.0,561.5 L634.7,562.8 L635.4,564.2 L636.2,565.5 L636.9,566.9 L637.6,568.3 L638.3,569.6 L639.0,571.0 L639.7,572.4 L640.4,573.7 L641.0,575.1 L641.7,576.5 L642.4,577.9 L643.1,579.3 L643.8,580.6 L644.4,582.0 L645.1,583.4 L645.8,584.8 L646.4,586.2 L647.1,587.6 L647.7,589.0 L648.4,590.4 L649.0,591.8 L649.7,593.2 L650.3,594.6 L650.9,596.0 L651.6,597.4 L652.2,598.8 L652.8,600.2 L653.4,601.6 L654.0,603.0 L654.6,604.4 L655.2,605.8 L655.8,607.2 L656.4,608.6 L657.0,610.0 L657.6,611.4 L658.2,612.8 L658.8,614.2 L659.3,615.5 L659.9,616.9 L660.5,618.3 L661.0,619.7 L661.6,621.1 L662.1,622.5 L662.7,623.9 L663.2,625.3 L663.7,626.7 L664.3,628.1 L664.8,629.5 L665.3,630.9 L665.8,632.3 L666.3,633.7 L666.8,635.1 L667.3,636.5 L667.8,637.9 L668.3,639.3 L668.8,640.7 L669.3,642.1 L669.7,643.5 L670.2,644.9 L670.7,646.3 L671.1,647.7 L671.6,649.1 L672.0,650.5 L672.5,651.9 L672.9,653.3 L673.3,654.7 L673.7,656.1 L674.1,657.5 L674.5,658.9 L674.9,660.3 L675.3,661.8 L675.7,663.2 L676.1,664.6 L676.5,666.0 L676.9,667.4 L677.2,668.9 L677.6,670.3 L677.9,671.7 L678.3,673.2 L678.6,674.6 L679.0,676.0 L679.3,677.5 L679.6,678.9 L679.9,680.4 L680.2,681.8 L680.5,683.2 L680.8,684.7 L681.1,686.2 L681.4,687.6 L681.7,689.1 L681.9,690.5 L682.2,692.0 L682.4,693.5 L682.7,694.9 L682.9,696.4 L683.1,697.9 L683.4,699.4 L683.6,700.9 L683.8,702.4 L684.0,703.9 L684.2,705.4 L684.4,706.9 L684.6,708.4 L684.7,709.9 L684.9,711.4 L685.0,712.9 L685.2,714.4 L685.3,715.9 L685.5,717.5 L685.6,719.0 L685.7,720.5 L685.8,722.1 L685.9,723.6 L686.0,725.2 L686.1,726.7 L686.2,728.3 L686.3,729.9 L686.3,731.4 L686.4,733.0 L686.4,734.6 L686.5,736.2 L686.5,737.8 L686.5,739.4 L686.5,741.0 L686.5,742.6 L686.5,744.2 L686.5,745.8 L686.5,747.4 L686.4,749.0 L686.4,750.6 L686.3,752.2 L686.2,753.8 L686.1,755.4 L685.9,757.0 L685.8,758.5 L685.6,760.1 L685.3,761.6 L685.1,763.2 L684.8,764.7 L684.5,766.2 L684.1,767.7 L683.8,769.1 L683.3,770.6 L682.9,772.0 L682.4,773.4 L681.8,774.7 L681.3,776.1 L680.6,777.4 L680.0,778.6 L679.2,779.9 L678.5,781.1 L677.7,782.3 L676.8,783.4 L675.9,784.5 L674.9,785.6 L673.9,786.6 L672.8,787.5 L671.7,788.4 L670.6,789.2 L669.5,789.9 L668.3,790.5 L667.1,791.0 L665.9,791.4 L664.7,791.7 L663.6,791.8 L662.4,791.8 L661.2,791.7 L660.0,791.4 L658.9,791.0 L657.8,790.5 L656.6,789.9 L655.5,789.2 L654.4,788.4 L653.3,787.5 L652.3,786.5 L651.2,785.5 L650.1,784.3 L649.1,783.1 L648.1,781.9 L647.1,780.6 L646.1,779.3 L645.1,777.9 L644.1,776.5 L643.2,775.0 L642.3,773.6 L641.4,772.2 L640.5,770.7 L639.6,769.2 L638.7,767.8 L637.9,766.4 L637.1,765.0 L636.2,763.6 L635.4,762.2 L634.7,760.8 L633.9,759.4 L633.1,758.1 L632.4,756.7 L631.6,755.4 L630.9,754.1 L630.2,752.7 L629.5,751.4 L628.8,750.1 L628.1,748.8 L627.4,747.5 L626.7,746.2 L626.0,744.9 L625.3,743.6 L624.6,742.3 L623.9,741.0 L623.2,739.7 L622.5,738.4 L621.8,737.1 L621.1,735.8 L620.4,734.5 L619.6,733.2 L618.9,731.9 L618.2,730.6 L617.5,729.3 L616.8,728.1 L616.1,726.8 L615.3,725.5 L614.6,724.2 L613.9,722.8 L613.2,721.5 L612.5,720.2 L611.7,718.9 L611.0,717.6 L610.3,716.3 L609.5,715.0 L608.8,713.7 L608.1,712.4 L607.4,711.1 L606.6,709.8 L605.9,708.5 L605.2,707.2 L604.4,705.9 L603.7,704.5 L603.0,703.2 L602.3,701.9 L601.5,700.6 L600.8,699.3 L600.1,697.9 L599.4,696.6 L598.6,695.3 L597.9,694.0 L597.2,692.7 L596.5,691.3 L595.8,690.0 L595.1,688.7 L594.4,687.3 L593.6,686.0 L592.9,684.7 L592.2,683.3 L591.5,682.0 L590.8,680.7 L590.1,679.3 L589.5,678.0 L588.8,676.6 L588.1,675.3 L587.4,673.9 L586.7,672.6 L586.0,671.2 L585.4,669.9 L584.7,668.5 L584.0,667.2 L583.4,665.8 L582.7,664.5 L582.1,663.1 L581.4,661.7 L580.8,660.4 L580.1,659.0 L579.5,657.6 L578.9,656.3 L578.2,654.9 L577.6,653.5 L577.0,652.1 L576.4,650.8 L575.7,649.4 L575.1,648.0 L574.5,646.6 L573.9,645.2 L573.3,643.9 L572.7,642.5 L572.1,641.1 L571.5,639.7 L570.9,638.3 L570.3,636.9 L569.7,635.5 L569.1,634.2 L568.6,632.8 L568.0,631.4 L567.4,630.0 L566.8,628.6 L566.3,627.2 L565.7,625.8 L565.1,624.4 L564.6,623.0 L564.0,621.6 L563.4,620.2 L562.9,618.8 L562.3,617.4 L561.8,616.0 L561.2,614.6 L560.7,613.2 L560.2,611.8 L559.6,610.4 L559.1,608.9 L558.5,607.5 L558.0,606.1 L557.5,604.7 L556.9,603.3 L556.4,601.9 L555.9,600.5 L555.4,599.1 L554.8,597.7 L554.3,596.3 L553.8,594.8 L553.3,593.4 L552.8,592.0 L552.3,590.6 L551.7,589.2 L551.2,587.8 L550.7,586.4 L550.2,585.0 L549.7,583.5 L549.2,582.1 L548.7,580.7 L548.2,579.3 L547.7,577.9 L547.2,576.5 L546.7,575.1 L546.2,573.6 L545.7,572.2 L545.2,570.8 L544.7,569.4 L544.2,568.0 L543.8,566.6 L543.3,565.2 L542.8,563.7 L542.3,562.3 L541.8,560.9 L541.3,559.5 L540.9,558.1 L540.4,556.7 L539.9,555.2 L539.5,553.8 L539.0,552.4 L538.6,551.0 L538.1,549.6 L537.7,548.1 L537.3,546.7 L536.9,545.3 L536.4,543.8 L536.0,542.4 L535.6,541.0 L535.2,539.5 L534.9,538.1 L534.5,536.6 L534.1,535.2 L533.8,533.8 L533.4,532.3 L533.1,530.8 L532.8,529.4 L532.5,527.9 L532.2,526.5 L531.9,525.0 L531.6,523.5 L531.4,522.1 L531.1,520.6 L530.9,519.1 L530.7,517.6 L530.5,516.1 L530.3,514.6 L530.1,513.1 L529.9,511.6 L529.8,510.1 L529.7,508.6 L529.6,507.1 L529.5,505.5 L529.4,504.0 L529.3,502.5 L529.3,500.9 L529.3,499.4 L529.3,497.8 L529.3,496.3 L529.3,494.7 L529.4,493.2 L529.4,491.6 L529.5,490.0 L529.7,488.4 L529.8,486.8 L530.0,485.3 L530.2,483.7 L530.5,482.2 L530.9,480.7 L531.3,479.3 L531.8,477.9 L532.5,476.6 L533.2,475.3 L534.0,474.2 L535.0,473.1 L536.0,472.1 L537.1,471.2 L538.3,470.4 L539.6,469.6 L540.9,469.0 L542.3,468.4 L543.7,468.0 L545.1,467.6 L546.6,467.3 L548.0,467.1Z"/>
</g>
<g fill="#7b3b82" stroke="#7b3b82" stroke-width="0.6" font-family="Liberation Sans, sans-serif" font-size="31">
<text x="851.5" y="406.3" font-size="33">A</text>
<text x="501" y="568.6">B</text>
<text x="823" y="635">C</text>
</g>
</svg>
</body></html>
